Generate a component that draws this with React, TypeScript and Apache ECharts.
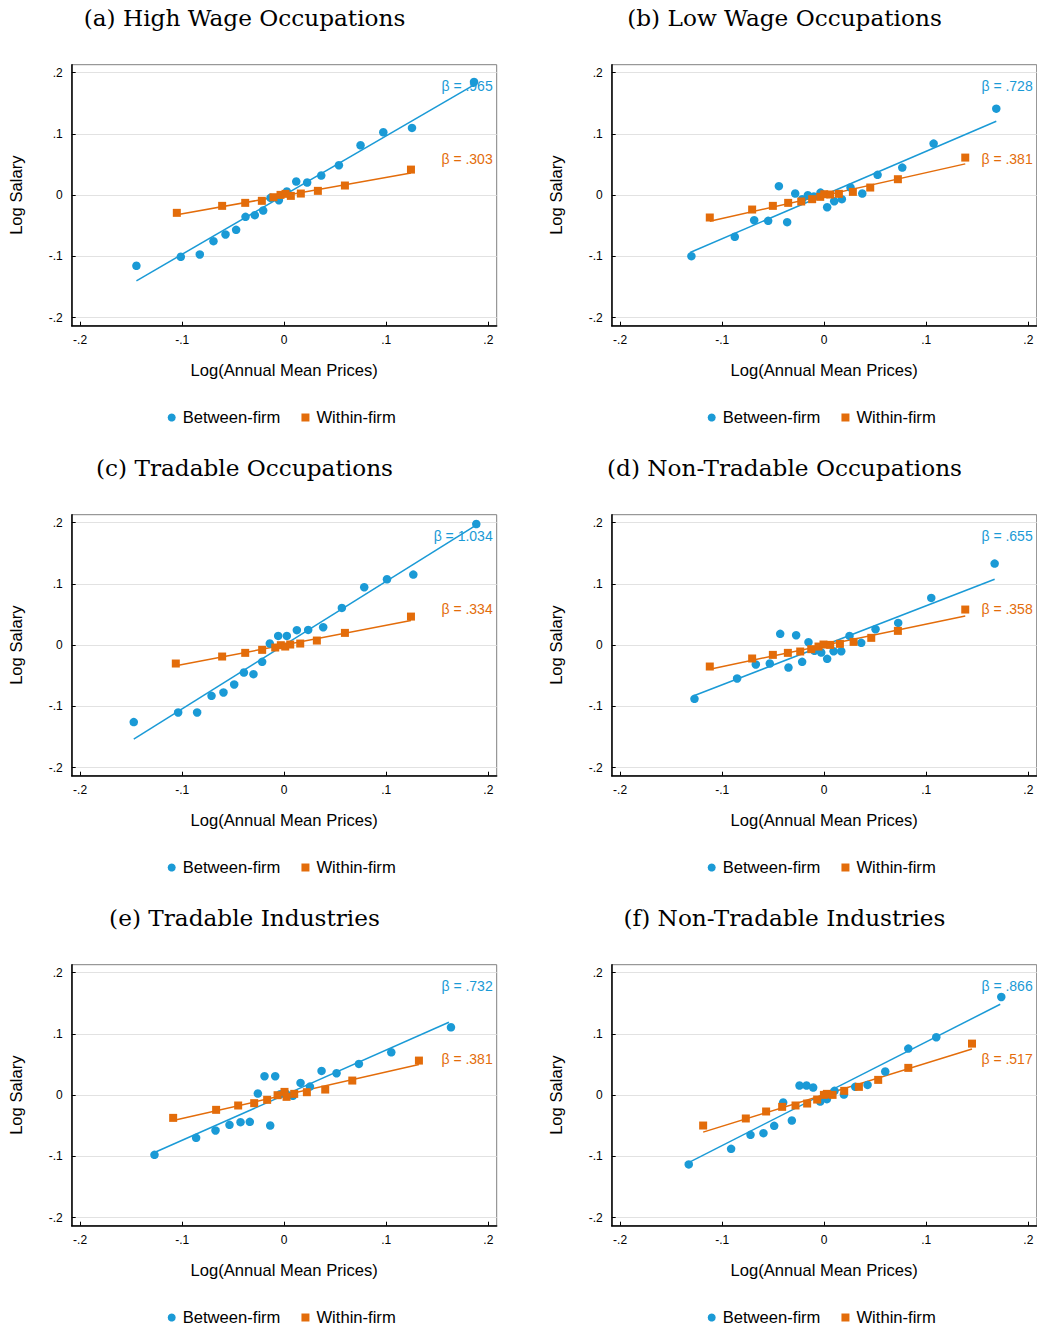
import React, { useEffect, useRef } from "react";
import * as echarts from "echarts";

const titles = [
  "(a) High Wage Occupations",
  "(b) Low Wage Occupations",
  "(c) Tradable Occupations",
  "(d) Non-Tradable Occupations",
  "(e) Tradable Industries",
  "(f) Non-Tradable Industries",
];
const tickValues = [-0.2, -0.1, 0, 0.1, 0.2];
const tickLabels = ["-.2", "-.1", "0", ".1", ".2"];
const legendNames = ["Between-firm", "Within-firm"];
const xAxisTitle = "Log(Annual Mean Prices)";
const yAxisTitle = "Log Salary";

const betweenBetas = [".965", ".728", "1.034", ".655", ".732", ".866"];
const withinBetas = [".303", ".381", ".334", ".358", ".381", ".517"];

// (a) High wage occupations
const highWageBetween = [
  [-0.1448, -0.1152], [-0.1013, -0.1005], [-0.0827, -0.0967], [-0.0693, -0.075],
  [-0.0575, -0.0641], [-0.0471, -0.0565], [-0.0379, -0.0353], [-0.0288, -0.0326],
  [-0.0206, -0.025], [-0.0134, -0.0043], [-0.0052, -0.0082], [0.0026, 0.006],
  [0.0118, 0.0223], [0.0225, 0.0207], [0.0363, 0.0321], [0.0536, 0.0489],
  [0.0748, 0.0815], [0.0971, 0.1027], [0.1252, 0.1098], [0.186, 0.1848],
];
const highWageWithin = [
  [-0.1052, -0.0288], [-0.0608, -0.0174], [-0.0382, -0.0125], [-0.0219, -0.0092],
  [-0.0105, -0.0033], [-0.0036, 0.0005], [0.0013, 0.0022], [0.0065, -0.0011],
  [0.0163, 0.0027], [0.033, 0.0071], [0.0595, 0.0158], [0.1242, 0.0418],
];
const highWageBetweenFit = [[-0.1448, -0.1397], [0.186, 0.18]];
const highWageWithinFit = [[-0.1052, -0.032], [0.1242, 0.0364]];

// (b) Low wage occupations
const lowWageBetween = [
  [-0.1301, -0.0995], [-0.0876, -0.0679], [-0.0686, -0.0408], [-0.0549, -0.0418],
  [-0.0444, 0.0147], [-0.0363, -0.044], [-0.0284, 0.0027], [-0.0216, -0.0065],
  [-0.016, 0.0], [-0.0101, -0.0022], [-0.0036, 0.0043], [0.0029, -0.0196],
  [0.0098, -0.0098], [0.0173, -0.0065], [0.0258, 0.0125], [0.0373, 0.0027],
  [0.0523, 0.0332], [0.0765, 0.0451], [0.1072, 0.0842], [0.1686, 0.1413],
];
const lowWageWithin = [
  [-0.1121, -0.0364], [-0.0706, -0.0234], [-0.0503, -0.0174], [-0.0353, -0.0125],
  [-0.0225, -0.0103], [-0.0118, -0.0065], [-0.0039, -0.0027], [0.0, 0.0016],
  [0.0059, 0.0011], [0.0144, 0.0022], [0.0281, 0.0054], [0.0451, 0.0125],
  [0.0722, 0.0261], [0.1382, 0.0614],
];
const lowWageBetweenFit = [[-0.1314, -0.0935], [0.1686, 0.1207]];
const lowWageWithinFit = [[-0.1121, -0.0424], [0.1382, 0.0511]];

// (c) Tradable occupations
const tradOccBetween = [
  [-0.1474, -0.1255], [-0.1039, -0.1098], [-0.0853, -0.1098], [-0.0712, -0.0826],
  [-0.0595, -0.0772], [-0.049, -0.0641], [-0.0395, -0.0446], [-0.0301, -0.0473],
  [-0.0216, -0.0272], [-0.0141, 0.0027], [-0.0059, 0.0152], [0.0026, 0.0152],
  [0.0124, 0.0245], [0.0235, 0.025], [0.0382, 0.0293], [0.0565, 0.0609],
  [0.0784, 0.0946], [0.1007, 0.1076], [0.1265, 0.1152], [0.1882, 0.1978],
];
const tradOccWithin = [
  [-0.1062, -0.0299], [-0.0608, -0.0185], [-0.0382, -0.0125], [-0.0216, -0.0076],
  [-0.0088, -0.0038], [-0.0033, 0.0], [0.001, -0.0022], [0.0059, 0.0011],
  [0.0157, 0.0027], [0.032, 0.0076], [0.0595, 0.0201], [0.1242, 0.0467],
];
const tradOccBetweenFit = [[-0.1474, -0.1533], [0.1873, 0.1951]];
const tradOccWithinFit = [[-0.1062, -0.0337], [0.1242, 0.0402]];

// (d) Non-tradable occupations
const nonTradOccBetween = [
  [-0.1271, -0.0875], [-0.0853, -0.0543], [-0.067, -0.0315], [-0.0533, -0.0299],
  [-0.0431, 0.0185], [-0.035, -0.0364], [-0.0275, 0.0163], [-0.0216, -0.0272],
  [-0.0154, 0.0049], [-0.0095, -0.0092], [-0.0029, -0.012], [0.0029, -0.0223],
  [0.0092, -0.0098], [0.0167, -0.0098], [0.0248, 0.0152], [0.0363, 0.0038],
  [0.0503, 0.0261], [0.0725, 0.0364], [0.1049, 0.0772], [0.167, 0.1332],
];
const nonTradOccWithin = [
  [-0.1121, -0.0348], [-0.0706, -0.0217], [-0.0503, -0.0158], [-0.0356, -0.0125],
  [-0.0235, -0.0103], [-0.0127, -0.0065], [-0.0056, -0.0022], [-0.0007, 0.0011],
  [0.0059, 0.0005], [0.0154, 0.0022], [0.0288, 0.0054], [0.0461, 0.012],
  [0.0722, 0.0234], [0.1382, 0.0582],
];
const nonTradOccBetweenFit = [[-0.1271, -0.0821], [0.167, 0.1076]];
const nonTradOccWithinFit = [[-0.1121, -0.0391], [0.1382, 0.0478]];

// (e) Tradable industries
const tradIndBetween = [
  [-0.1271, -0.0973], [-0.0863, -0.0696], [-0.0673, -0.0576], [-0.0536, -0.0484],
  [-0.0428, -0.044], [-0.0337, -0.0435], [-0.0258, 0.0027], [-0.0193, 0.031],
  [-0.0137, -0.0495], [-0.0088, 0.031], [-0.0039, 0.0016], [0.002, 0.0022],
  [0.0085, -0.0011], [0.016, 0.0201], [0.0252, 0.0141], [0.0366, 0.0397],
  [0.0513, 0.0359], [0.0732, 0.0511], [0.1049, 0.0701], [0.1634, 0.1109],
];
const tradIndWithin = [
  [-0.1088, -0.037], [-0.0667, -0.0239], [-0.0451, -0.0168], [-0.0294, -0.013],
  [-0.0167, -0.0076], [-0.0065, 0.0], [0.0003, 0.0054], [0.0023, -0.0027],
  [0.0098, 0.0022], [0.0222, 0.0049], [0.0402, 0.0092], [0.0667, 0.0239],
  [0.132, 0.0565],
];
const tradIndBetweenFit = [[-0.1271, -0.0935], [0.1614, 0.119]];
const tradIndWithinFit = [[-0.1088, -0.0413], [0.132, 0.05]];

// (f) Non-tradable industries
const nonTradIndBetween = [
  [-0.1327, -0.113], [-0.0912, -0.0875], [-0.0722, -0.0647], [-0.0595, -0.062],
  [-0.049, -0.05], [-0.0402, -0.012], [-0.0317, -0.0413], [-0.0242, 0.0158],
  [-0.0173, 0.0158], [-0.0108, 0.0125], [-0.0039, -0.0103], [0.0026, -0.0065],
  [0.0101, 0.0071], [0.0193, 0.0011], [0.0304, 0.0136], [0.0425, 0.0168],
  [0.0598, 0.0386], [0.0824, 0.0761], [0.1098, 0.0946], [0.1735, 0.1603],
];
const nonTradIndWithin = [
  [-0.1186, -0.0495], [-0.0768, -0.038], [-0.0569, -0.0266], [-0.0412, -0.019],
  [-0.0281, -0.0168], [-0.0167, -0.0136], [-0.0069, -0.0071], [-0.0003, 0.0005],
  [0.0026, 0.0022], [0.0082, 0.0005], [0.0196, 0.0071], [0.034, 0.0136],
  [0.0529, 0.025], [0.0824, 0.0446], [0.1448, 0.0842],
];
const nonTradIndBetweenFit = [[-0.1353, -0.112], [0.1725, 0.1484]];
const nonTradIndWithinFit = [[-0.1186, -0.0603], [0.1448, 0.0755]];

const panels = [
  { between: highWageBetween, within: highWageWithin, bFit: highWageBetweenFit, wFit: highWageWithinFit },
  { between: lowWageBetween, within: lowWageWithin, bFit: lowWageBetweenFit, wFit: lowWageWithinFit },
  { between: tradOccBetween, within: tradOccWithin, bFit: tradOccBetweenFit, wFit: tradOccWithinFit },
  { between: nonTradOccBetween, within: nonTradOccWithin, bFit: nonTradOccBetweenFit, wFit: nonTradOccWithinFit },
  { between: tradIndBetween, within: tradIndWithin, bFit: tradIndBetweenFit, wFit: tradIndWithinFit },
  { between: nonTradIndBetween, within: nonTradIndWithin, bFit: nonTradIndBetweenFit, wFit: nonTradIndWithinFit },
];

const BLUE = "#1a9ad6";
const ORANGE = "#e36c0a";
const SANS = "'Liberation Sans', Arial, Helvetica, sans-serif";
const SERIF = "'DejaVu Serif', serif";

const AX_MIN = -0.2082;
const AX_MAX = 0.2082;
const AY_MIN = -0.213;
const AY_MAX = 0.213;

const fmt = (v: number) => {
  const i = tickValues.findIndex((t) => Math.abs(t - v) < 1e-6);
  return i >= 0 ? tickLabels[i] : "";
};

function buildOption() {
  const grids: any[] = [];
  const xAxes: any[] = [];
  const yAxes: any[] = [];
  const series: any[] = [];
  const legends: any[] = [];
  const graphics: any[] = [];

  panels.forEach((p, i) => {
    const col = i % 2;
    const row = Math.floor(i / 2);
    const left = col === 0 ? 71.7 : 611.7;
    const top = 64.7 + row * 450;
    const width = 425;
    const height = 261;
    const cx = left + width / 2;

    grids.push({
      left,
      top,
      width,
      height,
      show: true,
      borderColor: "#808080",
      borderWidth: 1,
      backgroundColor: "transparent",
    });

    xAxes.push({
      gridIndex: i,
      type: "value",
      min: AX_MIN,
      max: AX_MAX,
      axisLine: { show: true, onZero: false, lineStyle: { color: "#000", width: 1.5 } },
      axisTick: {
        show: true,
        inside: true,
        length: 4,
        customValues: tickValues,
        lineStyle: { color: "#000", width: 1 },
      },
      axisLabel: {
        customValues: tickValues,
        formatter: fmt,
        fontSize: 12,
        color: "#000",
        fontFamily: SANS,
        margin: 8,
      },
      splitLine: { show: false },
    });

    yAxes.push({
      gridIndex: i,
      type: "value",
      min: AY_MIN,
      max: AY_MAX,
      axisLine: { show: true, onZero: false, lineStyle: { color: "#000", width: 1.5 } },
      axisTick: {
        show: true,
        inside: true,
        length: 4,
        customValues: tickValues,
        lineStyle: { color: "#000", width: 1 },
      },
      axisLabel: {
        customValues: tickValues,
        formatter: fmt,
        fontSize: 12,
        color: "#000",
        fontFamily: SANS,
        margin: 9,
      },
      splitLine: { show: true, lineStyle: { color: "#e2e2e2", width: 1 } },
    });

    series.push(
      {
        type: "line",
        name: "fitB" + i,
        xAxisIndex: i,
        yAxisIndex: i,
        data: p.bFit,
        symbol: "none",
        silent: true,
        lineStyle: { color: BLUE, width: 1.5 },
        z: 2,
      },
      {
        type: "line",
        name: "fitW" + i,
        xAxisIndex: i,
        yAxisIndex: i,
        data: p.wFit,
        symbol: "none",
        silent: true,
        lineStyle: { color: ORANGE, width: 1.5 },
        z: 2,
      },
      {
        type: "scatter",
        name: legendNames[0],
        xAxisIndex: i,
        yAxisIndex: i,
        data: p.between,
        symbol: "circle",
        symbolSize: 8.5,
        itemStyle: { color: BLUE, opacity: 1 },
        z: 3,
      },
      {
        type: "scatter",
        name: legendNames[1],
        xAxisIndex: i,
        yAxisIndex: i,
        data: p.within,
        symbol: "rect",
        symbolSize: 8,
        itemStyle: { color: ORANGE, opacity: 1 },
        z: 4,
      }
    );

    legends.push({
      data: [
        { name: legendNames[0], icon: "circle", itemStyle: { color: BLUE } },
        { name: legendNames[1], icon: "rect", itemStyle: { color: ORANGE } },
      ],
      left: left + 96,
      top: top + 344.3,
      padding: 0,
      itemWidth: 8,
      itemHeight: 8,
      itemGap: 21,
      selectedMode: false,
      textStyle: { fontSize: 16.6, color: "#000", fontFamily: SANS, padding: [0, 0, 0, 2] },
    });

    // title
    graphics.push({
      type: "text",
      x: col === 0 ? 244.5 : 784.5,
      y: top - 47.5,
      style: {
        text: titles[i],
        fontSize: 23.2,
        fontFamily: SERIF,
        fill: "#000",
        align: "center",
        verticalAlign: "middle",
      },
    });
    // y axis title
    graphics.push({
      type: "text",
      x: left - 55.7,
      y: top + height / 2,
      rotation: Math.PI / 2,
      style: {
        text: yAxisTitle,
        fontSize: 16.6,
        fontFamily: SANS,
        fill: "#000",
        align: "center",
        verticalAlign: "middle",
      },
    });
    // x axis title
    graphics.push({
      type: "text",
      x: cx,
      y: top + 306,
      style: {
        text: xAxisTitle,
        fontSize: 16.6,
        fontFamily: SANS,
        fill: "#000",
        align: "center",
        verticalAlign: "middle",
      },
    });
    // beta labels
    graphics.push({
      type: "text",
      x: left + width - 4,
      y: top + 21,
      style: {
        text: "\u03b2 = " + betweenBetas[i],
        fontSize: 14,
        fontFamily: SANS,
        fill: BLUE,
        align: "right",
        verticalAlign: "middle",
      },
      z: 10,
    });
    graphics.push({
      type: "text",
      x: left + width - 4,
      y: top + 94.6,
      style: {
        text: "\u03b2 = " + withinBetas[i],
        fontSize: 14,
        fontFamily: SANS,
        fill: ORANGE,
        align: "right",
        verticalAlign: "middle",
      },
      z: 10,
    });
  });

  return {
    animation: false,
    backgroundColor: "#ffffff",
    grid: grids,
    xAxis: xAxes,
    yAxis: yAxes,
    legend: legends,
    series,
    graphic: { elements: graphics },
  };
}

export default function App() {
  const ref = useRef<HTMLDivElement | null>(null);
  useEffect(() => {
    if (!ref.current) return;
    const chart = echarts.init(ref.current, undefined, { renderer: "svg" });
    chart.setOption(buildOption() as any);
    return () => {
      chart.dispose();
    };
  }, []);
  return (
    <div
      ref={ref}
      style={{ position: "absolute", left: 0, top: 0, width: 1037, height: 1330, background: "#fff" }}
    />
  );
}
